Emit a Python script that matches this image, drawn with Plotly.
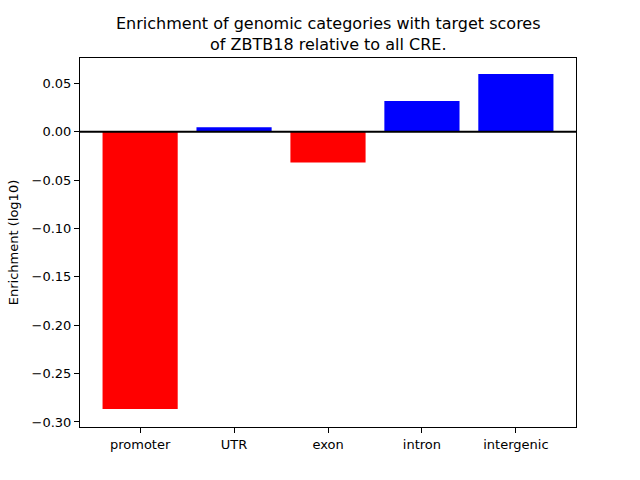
import plotly.graph_objects as go

categories = ["promoter", "UTR", "exon", "intron", "intergenic"]
values = [-0.2866, 0.0045, -0.0320, 0.0317, 0.0596]
ytick_vals = [-0.30, -0.25, -0.20, -0.15, -0.10, -0.05, 0.00, 0.05]
title_text = "Enrichment of genomic categories with target scores<br>of ZBTB18 relative to all CRE."

colors = ["red" if v < 0 else "blue" for v in values]
xpos = list(range(len(categories)))

fig = go.Figure()
fig.add_trace(go.Bar(x=xpos, y=values, width=0.8, marker=dict(color=colors, line=dict(width=0)),
                     showlegend=False))

fig.add_shape(type="line", xref="paper", yref="y", x0=0, x1=1, y0=0, y1=0,
              line=dict(color="black", width=2), layer="above")

axis_common = dict(showline=True, linecolor="black", linewidth=1, mirror=True,
                   ticks="outside", ticklen=5, tickcolor="black", tickwidth=1,
                   showgrid=False, zeroline=False,
                   tickfont=dict(family="DejaVu Sans", size=13, color="black"))

fig.update_xaxes(range=[-0.64, 4.64], tickmode="array", tickvals=xpos, ticktext=categories,
                 **axis_common)
fig.update_yaxes(range=[-0.3052, 0.0761], tickmode="array", tickvals=ytick_vals,
                 tickformat=".2f",
                 title=dict(text="Enrichment (log10)", font=dict(family="DejaVu Sans", size=13, color="black"), standoff=10),
                 **axis_common)

fig.add_annotation(text=title_text, xref="paper", yref="paper", x=0.5, y=1,
                   xanchor="center", yanchor="middle", yshift=24, showarrow=False,
                   font=dict(family="DejaVu Sans", size=16, color="black"))

fig.update_layout(
    width=640, height=480,
    margin=dict(l=80, r=64, t=58, b=53),
    paper_bgcolor="white", plot_bgcolor="white",
)

fig.write_html("out.html", config={"displayModeBar": False})

with open("out.html", "r", encoding="utf-8") as f:
    html = f.read()
html = html.replace("<body>", "<body style=\"margin:0;padding:0\">", 1)
with open("out.html", "w", encoding="utf-8") as f:
    f.write(html)
